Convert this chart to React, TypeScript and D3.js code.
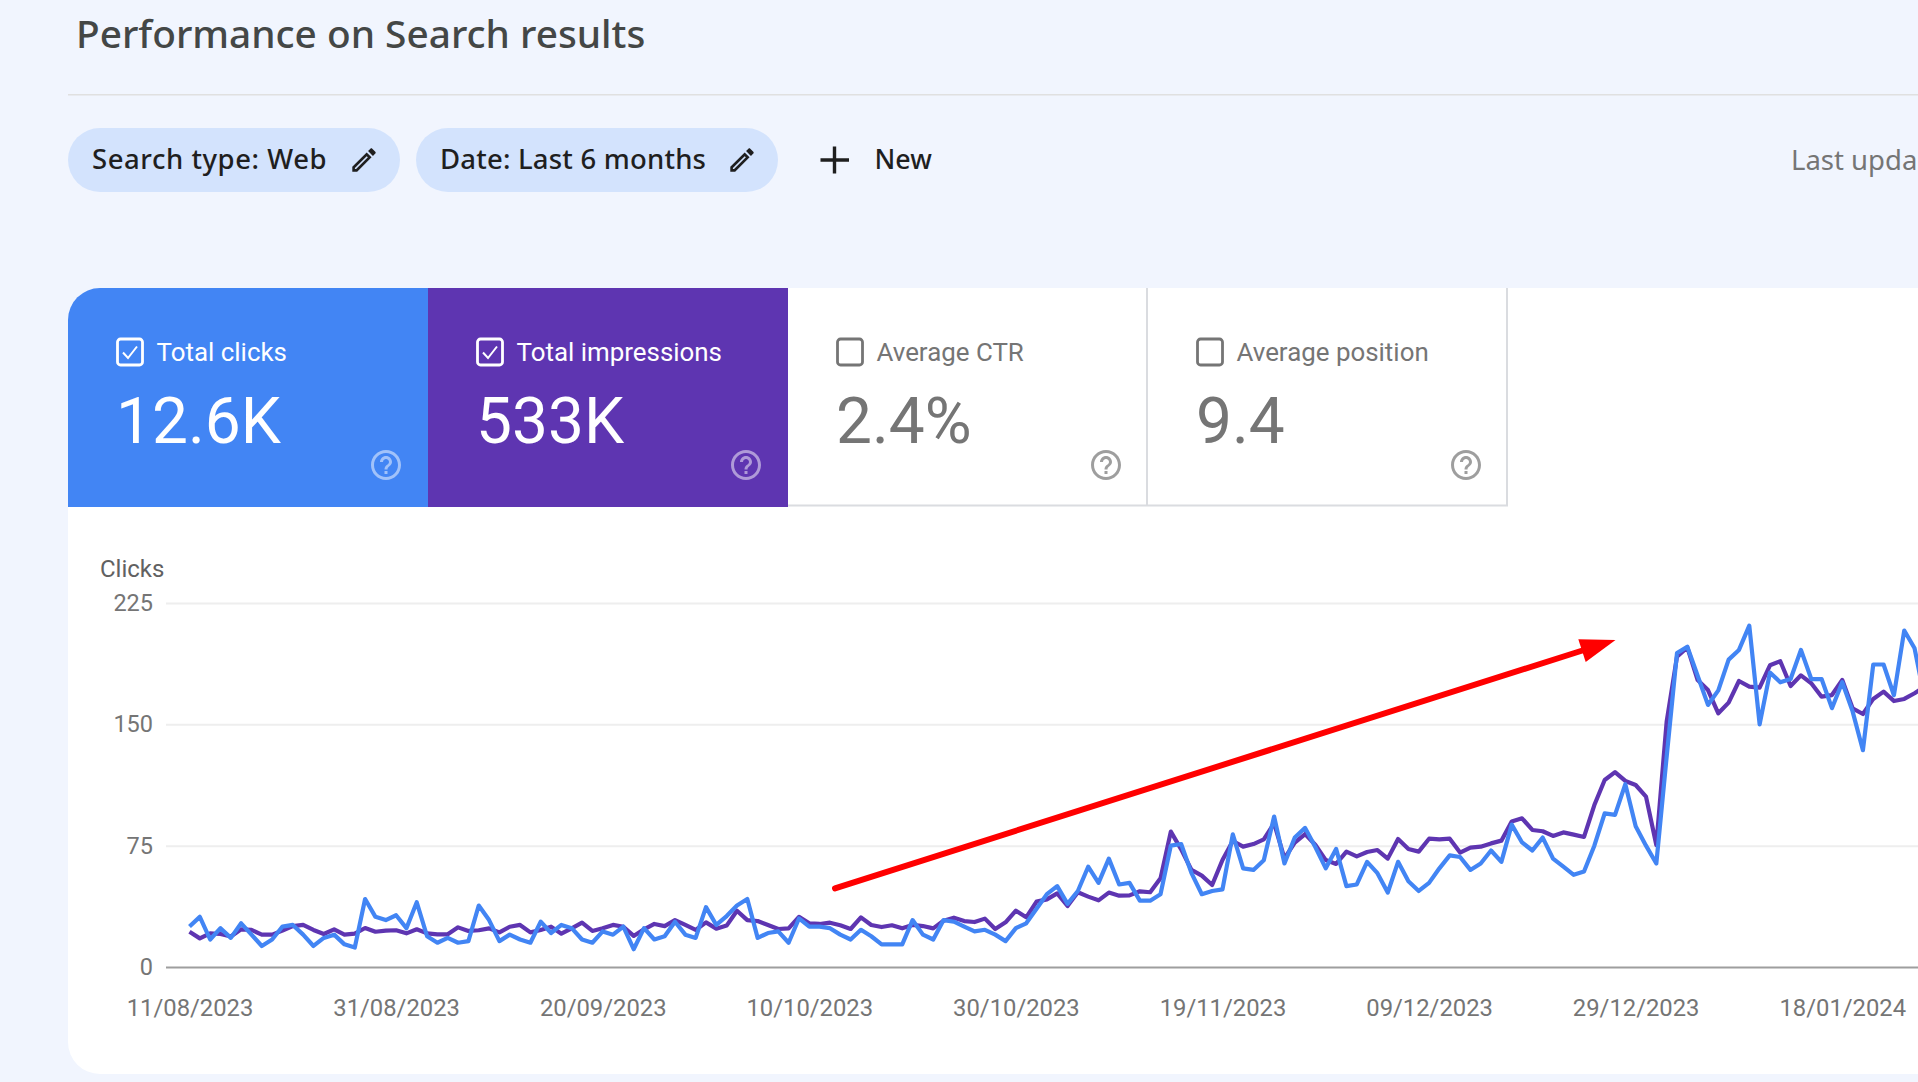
import React, { useEffect, useRef } from 'react';
import { axisBottom, axisLeft, line, scaleLinear, select } from 'd3';

const xTickDays = [0, 20, 40, 60, 80, 100, 120, 140, 160];
const xTickLabels = [
  '11/08/2023', '31/08/2023', '20/09/2023', '10/10/2023', '30/10/2023',
  '19/11/2023', '09/12/2023', '29/12/2023', '18/01/2024',
];
const yTicks = [0, 75, 150, 225];

const clicks = [
  25, 31, 17, 24, 18, 27, 20, 13, 17, 25, 26, 20, 13, 18, 20, 14, 12, 42, 31, 29, 32, 24,
  40, 19, 15, 18, 15, 16, 38, 29, 16, 20, 17, 15, 28, 21, 26, 24, 17, 15, 22, 20, 25, 11, 24, 17, 19, 28, 20, 18, 37, 26,
  31.5, 38, 42, 18, 21, 22, 15, 30, 25, 25, 24, 20, 17, 23, 19, 14, 14, 14, 29, 20, 17, 29, 28, 25, 22, 23, 20, 16, 24, 27,
  36, 45, 50, 39, 47, 62, 52, 67, 51, 52, 41, 41, 45, 75, 76, 58, 45, 47, 48, 82, 61, 60, 66, 93, 64, 80, 86, 74, 61, 73,
  50, 51, 65, 58, 46, 65, 53, 47, 52, 61, 69, 68, 60, 64, 72, 65, 88, 77, 72, 80, 67, 62, 57, 59, 75, 95, 94, 113, 87,
  75, 64, 130, 194, 198, 180, 162, 171, 190, 196, 211, 150, 182, 176, 178, 196, 178, 178, 160, 176, 158, 134, 187, 187, 168, 208, 197, 165,
];

// impressions have their own axis off to the right (cropped), so these are read against the clicks axis
const impressions = [
  21.8, 17.7, 20.8, 20.4, 18.8, 23.3, 22.9, 20, 20, 22.5, 25.3, 26, 22.9, 20.4, 23.3, 20, 20.6, 24.1, 21.8, 22.5, 22.7, 20.8,
  23.3, 20.8, 20.2, 20.2, 24.5, 22.3, 22.7, 23.9, 21.4, 24.9, 26, 21.4, 22.9, 24.9, 20.6, 23.9, 27.4, 22.3, 23.9, 26, 24.9, 19.2, 23.3, 26.6, 25.3, 29, 26, 22.9, 27.6, 23.7,
  25.6, 34.8, 29, 28.4, 26, 23.5, 23.9, 31, 27, 26.6, 27.4, 25.8, 23.5, 30.7, 26, 24.7, 25.8, 23.9, 26, 25.3, 23.9, 28.6, 30.5, 28.4, 27.8, 29.9, 23.5, 27.6, 34.8, 30.7,
  40.4, 41.8, 45.5, 37.7, 46.2, 43.5, 41.2, 46, 44.1, 44.3, 46.8, 46.2, 54.8, 83.7, 72.7, 60, 56.5, 50.7, 66.1, 77.9, 74.4, 76, 78.9, 88.8, 67.2, 76.9, 82.2, 75.4, 66.1, 63.7,
  71.3, 68.4, 71.1, 72.3, 67, 79.1, 72.9, 71.3, 79.3, 78.9, 79.3, 70.7, 73.8, 74.4, 76.4, 78.1, 90, 91.9, 84.7, 83.9, 81, 83.2, 81.8, 80.4, 100.1, 115.6, 120.5, 115, 112.5,
  105.3, 75.4, 151.7, 191.8, 197.6, 177.4, 171.2, 156.8, 163.4, 176.8, 173.3, 172.7, 186.5, 189, 173.7, 180.3, 175.4, 167.1, 168.1, 177.4, 159.9, 156.4, 165.7, 170.2, 164.4, 165.7, 169.2, 173.3,
];

const tileLabels = ['Total clicks', 'Total impressions', 'Average CTR', 'Average position'];
const tileValues = ['12.6K', '533K', '2.4%', '9.4'];
const tileChecked = [true, true, false, false];
const tileFills = ['#4285f4', '#5e35b1', '#ffffff', '#ffffff'];

const chips = ['Search type: Web', 'Date: Last 6 months'];
const chipSpacing = [0.55, 0.2];

const PENCIL =
  'M3 17.25V21h3.75L17.81 9.94l-3.75-3.75L3 17.25zM5.92 19H5v-.92l9.06-9.06.92.92L5.92 19zM20.71 7.04c.39-.39.39-1.02 0-1.41l-2.34-2.34c-.2-.2-.45-.29-.71-.29s-.51.09-.7.28l-1.83 1.83 3.75 3.75 1.83-1.82z';
const HELP =
  'M11 18h2v-2h-2v2zm1-16C6.48 2 2 6.48 2 12s4.48 10 10 10 10-4.48 10-10S17.52 2 12 2zm0 18c-4.41 0-8-3.59-8-8s3.59-8 8-8 8 3.59 8 8-3.59 8-8 8zm0-14c-2.21 0-4 1.79-4 4h2c0-1.1.9-2 2-2s2 .9 2 2c0 2-3 1.75-3 5h2c0-2.25 3-2.5 3-5 0-2.21-1.79-4-4-4z';

const ROBOTO = 'Roboto, sans-serif';
const HEAD = '"Noto Sans", sans-serif';

const App = () => {
  const chartRef = useRef<SVGSVGElement | null>(null);

  useEffect(() => {
    const svg = select(chartRef.current);
    const width = 1918;
    const height = 1082;
    svg.selectAll('*').remove();
    svg.attr('width', width).attr('height', height);

    svg.append('rect').attr('width', width).attr('height', height).attr('fill', '#f1f5fe');

    // header
    svg.append('text')
      .attr('x', 76).attr('y', 48)
      .attr('font-family', HEAD).attr('font-size', 38.8).attr('font-weight', 500).attr('fill', '#444746')
      .text('Performance on Search results');
    svg.append('rect').attr('x', 68).attr('y', 94).attr('width', width - 68).attr('height', 1.5).attr('fill', '#e0e0e0');

    const chipX = [68, 416];
    const chipW = [332, 362];
    chips.forEach((c, i) => {
      svg.append('rect')
        .attr('x', chipX[i]).attr('y', 128).attr('width', chipW[i]).attr('height', 64)
        .attr('rx', 32).attr('fill', '#d3e3fd');
      svg.append('text')
        .attr('x', chipX[i] + 24).attr('y', 169)
        .attr('font-family', HEAD).attr('font-size', 27.5).attr('font-weight', 500).attr('letter-spacing', chipSpacing[i]).attr('fill', '#1f1f1f')
        .text(c);
      svg.append('path')
        .attr('d', PENCIL)
        .attr('transform', `translate(${chipX[i] + chipW[i] - 36 - 15.6},${160 - 15.6}) scale(1.3)`)
        .attr('fill', '#1f1f1f');
    });
    svg.append('path').attr('d', 'M834.5 146.5V173.5M820.5 160H849').attr('stroke', '#1f1f1f').attr('stroke-width', 3.4).attr('fill', 'none');
    svg.append('text')
      .attr('x', 874.5).attr('y', 169)
      .attr('font-family', HEAD).attr('font-size', 26.8).attr('font-weight', 500).attr('fill', '#1f1f1f')
      .text('New');
    svg.append('text')
      .attr('x', 1791).attr('y', 170)
      .attr('font-family', HEAD).attr('font-size', 27.5).attr('fill', '#757575')
      .text('Last upda');

    // white card with rounded left corners
    svg.append('path')
      .attr('d', 'M1918 288H100A32 32 0 0 0 68 320V1042A32 32 0 0 0 100 1074H1918Z')
      .attr('fill', '#ffffff');

    // metric tiles
    const tileW = 360;
    tileLabels.forEach((label, i) => {
      const x0 = 68 + i * tileW;
      const active = tileChecked[i];
      const fg = active ? '#ffffff' : '#757575';
      if (i === 0) {
        svg.append('path')
          .attr('d', `M${x0 + tileW} 288H100A32 32 0 0 0 68 320V507H${x0 + tileW}Z`)
          .attr('fill', tileFills[i]);
      } else if (active) {
        svg.append('rect').attr('x', x0).attr('y', 288).attr('width', tileW).attr('height', 219).attr('fill', tileFills[i]);
      } else {
        svg.append('path')
          .attr('d', `M${x0} 505.5H${x0 + tileW - 1}V288`)
          .attr('fill', 'none').attr('stroke', '#dadce0').attr('stroke-width', 2);
      }
      svg.append('rect')
        .attr('x', x0 + 49.5).attr('y', 339).attr('width', 25).attr('height', 26).attr('rx', 3)
        .attr('fill', 'none').attr('stroke', fg).attr('stroke-width', 2.8);
      if (active) {
        svg.append('path')
          .attr('d', `M${x0 + 55} 352.5L${x0 + 60} 358L${x0 + 69} 346.5`)
          .attr('fill', 'none').attr('stroke', fg).attr('stroke-width', 2);
      }
      svg.append('text')
        .attr('x', x0 + 88.5).attr('y', 361)
        .attr('font-family', ROBOTO).attr('font-size', 25.9).attr('fill', fg)
        .text(label);
      svg.append('text')
        .attr('x', x0 + 48).attr('y', 442.5)
        .attr('font-family', ROBOTO).attr('font-size', 64).attr('font-weight', 400).attr('fill', fg)
        .text(tileValues[i]);
      svg.append('path')
        .attr('d', HELP)
        .attr('transform', `translate(${x0 + 318 - 18},${465 - 18}) scale(1.5)`)
        .attr('fill', active ? '#ffffff' : '#757575')
        .attr('opacity', active ? 0.5 : 0.7);
    });

    // chart
    const x = scaleLinear().domain([0, 168]).range([189.5, 1924.9]);
    const y = scaleLinear().domain([0, 225]).range([967, 603]);

    const gy = svg.append('g')
      .attr('transform', 'translate(166,0)')
      .call(axisLeft(y).tickValues(yTicks).tickSize(-(width - 166)).tickPadding(13));
    gy.select('.domain').remove();
    gy.selectAll('.tick line').attr('stroke', (d) => (d === 0 ? '#9e9e9e' : '#eeeeee')).attr('stroke-width', 2);
    gy.selectAll('.tick text')
      .attr('font-family', ROBOTO).attr('font-size', 23.5).attr('fill', '#757575');

    const gx = svg.append('g')
      .attr('transform', 'translate(0,967)')
      .call(
        axisBottom(x)
          .tickValues(xTickDays)
          .tickSize(0)
          .tickPadding(32)
          .tickFormat((_, i) => xTickLabels[i])
      );
    gx.select('.domain').remove();
    gx.selectAll('.tick text')
      .attr('font-family', ROBOTO).attr('font-size', 23.8).attr('fill', '#757575');

    svg.append('text')
      .attr('x', 100).attr('y', 577)
      .attr('font-family', ROBOTO).attr('font-size', 24).attr('fill', '#616161')
      .text('Clicks');

    const path = line<number>().x((_, i) => x(i)).y((d) => y(d));
    svg.append('path')
      .attr('d', path(impressions))
      .attr('fill', 'none').attr('stroke', '#5e35b1').attr('stroke-width', 4.2).attr('stroke-linejoin', 'round');
    svg.append('path')
      .attr('d', path(clicks))
      .attr('fill', 'none').attr('stroke', '#4285f4').attr('stroke-width', 4.2).attr('stroke-linejoin', 'round');

    // hand-drawn annotation arrow
    svg.append('line')
      .attr('x1', 835).attr('y1', 888.3).attr('x2', 1584).attr('y2', 650)
      .attr('stroke', '#ff0000').attr('stroke-width', 6).attr('stroke-linecap', 'round');
    svg.append('path').attr('d', 'M1615.5 640L1578.3 639.3L1585.7 662Z').attr('fill', '#ff0000');
  }, []);

  return <svg ref={chartRef} style={{ position: 'fixed', left: 0, top: 0 }} />;
};

export default App;
